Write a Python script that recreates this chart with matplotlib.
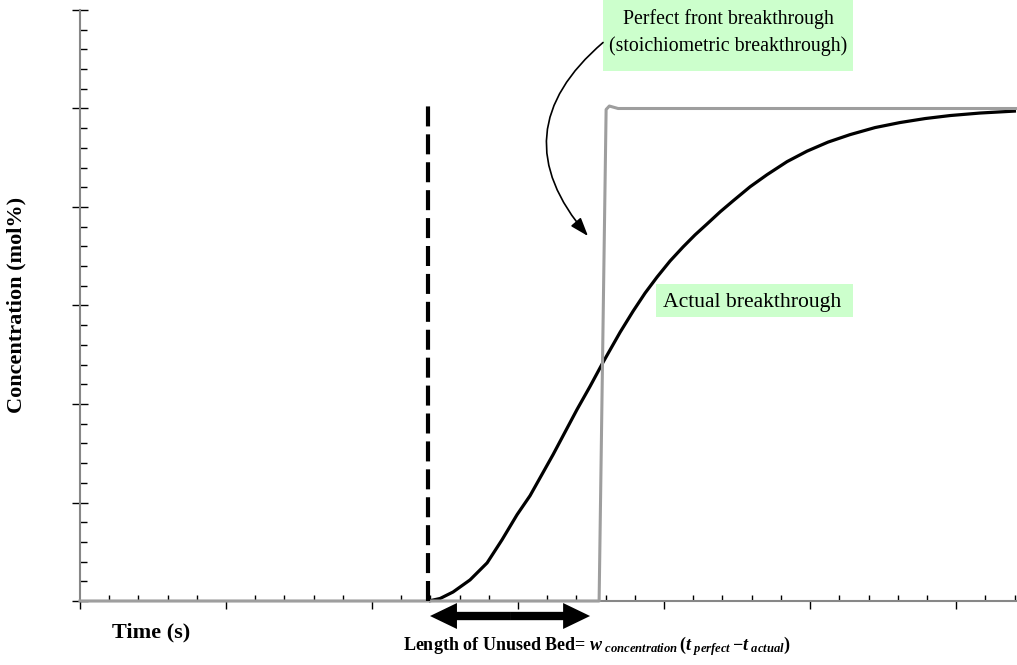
import matplotlib
matplotlib.use("Agg")
import matplotlib.pyplot as plt
from matplotlib.ticker import MultipleLocator, NullFormatter
from matplotlib.patches import Rectangle, FancyArrowPatch
import matplotlib.transforms as mtransforms

# ---- data -----------------------------------------------------------------
# actual (dispersed) breakthrough curve
actual_t = [2.388, 2.466, 2.555, 2.671, 2.788, 2.890, 2.993, 3.082, 3.240,
            3.404, 3.493, 3.582, 3.699, 3.788, 3.870, 3.952, 4.041, 4.130,
            4.212, 4.295, 4.384, 4.473, 4.589, 4.705, 4.842, 4.979, 5.123,
            5.274, 5.445, 5.616, 5.788, 5.959, 6.164, 6.41]
actual_c = [0.0, 0.51, 1.83, 4.28, 7.74, 12.42, 17.52, 21.38, 29.74,
            38.90, 43.58, 48.47, 54.58, 58.86, 62.53, 65.78, 69.04, 71.89,
            74.34, 76.58, 79.02, 81.26, 84.11, 86.56, 89.21, 91.34, 93.18,
            94.70, 96.13, 97.15, 97.96, 98.57, 99.08, 99.49]

# ideal (stoichiometric) step front
perfect_t = [0.0, 3.555, 3.603, 3.625, 3.685, 6.41]
perfect_c = [0.0, 0.0, 99.8, 100.5, 100.0, 100.0]

# start of breakthrough marker
t_actual = 2.384
marker_top = 101.0

x_max = 6.41
y_max = 120

grey = "#9E9E9E"
axis_grey = "#878787"
box_green = "#CCFFCC"

plt.rcParams["font.family"] = ["Liberation Serif", "DejaVu Serif"]
plt.rcParams["mathtext.fontset"] = "custom"
plt.rcParams["mathtext.rm"] = "Liberation Serif:bold"
plt.rcParams["mathtext.bf"] = "Liberation Serif:bold"
plt.rcParams["mathtext.it"] = "Liberation Serif:bold:italic"

fig = plt.figure(figsize=(10.17, 6.65), dpi=100)
ax = fig.add_axes([80 / 1017, 64 / 665, 936 / 1017, 591 / 665])

ax.set_xlim(0, x_max)
ax.set_ylim(0, y_max)

# curves
ax.plot(actual_t, actual_c, color="black", lw=2.3, zorder=3, clip_on=False,
        solid_capstyle="butt", solid_joinstyle="round")
ax.plot(perfect_t, perfect_c, color=grey, lw=2.2, zorder=4, clip_on=False,
        solid_joinstyle="round")
ax.plot([t_actual, t_actual], [0, marker_top], color="black", lw=3.0,
        dashes=(4.8, 1.9), zorder=5, clip_on=False)

# axes styling
for side in ("top", "right"):
    ax.spines[side].set_visible(False)
for side in ("left", "bottom"):
    ax.spines[side].set_color(axis_grey)
    ax.spines[side].set_linewidth(1.5)

ax.xaxis.set_major_locator(MultipleLocator(1))
ax.xaxis.set_minor_locator(MultipleLocator(0.2))
ax.yaxis.set_major_locator(MultipleLocator(20))
ax.yaxis.set_minor_locator(MultipleLocator(4))
for axis in (ax.xaxis, ax.yaxis):
    axis.set_major_formatter(NullFormatter())
    axis.set_minor_formatter(NullFormatter())
ax.tick_params(axis="x", which="major", direction="out", length=6, width=1.0,
               color="black")
ax.tick_params(axis="x", which="minor", direction="in", length=4, width=1.0,
               color="black")
ax.tick_params(axis="y", which="major", direction="inout", length=11, width=1.0,
               color="black")
ax.tick_params(axis="y", which="minor", direction="in", length=5, width=1.0,
               color="black")

# axis titles
xfrac = mtransforms.blended_transform_factory(ax.transData, ax.transAxes)
ax.text(0.49, -0.054, "Time (s)", transform=xfrac, ha="center", va="center",
        fontsize=16, fontweight="bold")
fig.text(16 / 1017, 1 - 305 / 665, "Concentration (mol%)", rotation=90,
         ha="center", va="center", fontsize=16, fontweight="bold")

# length-of-unused-bed double arrow
arrow_y = -0.0254
mid = (2.397 + 3.493) / 2
for end in (2.397, 3.493):
    ax.add_patch(FancyArrowPatch((mid, arrow_y), (end, arrow_y),
                                 transform=xfrac, clip_on=False,
                                 arrowstyle="simple,head_length=1.94,head_width=1.87,tail_width=0.6",
                                 mutation_scale=10, color="black", lw=0,
                                 shrinkA=0, shrinkB=0))

ax.text(3.541, -0.0755,
        r"Length of Unused Bed= $w_{\ concentration}\,(t_{\ perfect}\,\mathrm{-}t_{\ actual})$",
        transform=xfrac, ha="center", va="center", fontsize=13, fontweight="bold")

# annotation boxes
ax.add_patch(Rectangle((3.582, 107.7), 1.713, 14.7, facecolor=box_green,
                       edgecolor="none", clip_on=False, zorder=6))
ax.text(4.438, (601 - 21) / 4.91, "Perfect front breakthrough", ha="center",
        va="center", fontsize=14.3, zorder=7)
ax.text(4.438, (601 - 48) / 4.91, "(stoichiometric breakthrough)", ha="center",
        va="center", fontsize=14.3, zorder=7)

ax.add_patch(Rectangle((3.945, 57.6), 1.35, 6.8, facecolor=box_green,
                       edgecolor="none", clip_on=False, zorder=6))
ax.text(4.60, 60.6, "Actual breakthrough", ha="center", va="center",
        fontsize=15.6, zorder=7)

# curved pointer from the box to the step front
ax.add_patch(FancyArrowPatch((3.582, 113.4), (3.479, 74.1),
                             connectionstyle="arc3,rad=0.5",
                             arrowstyle="-|>,head_length=0.8,head_width=0.28",
                             mutation_scale=14, color="black", lw=1.2,
                             shrinkA=0, shrinkB=0, clip_on=False, zorder=6))

fig.savefig("out.png", dpi=100)
